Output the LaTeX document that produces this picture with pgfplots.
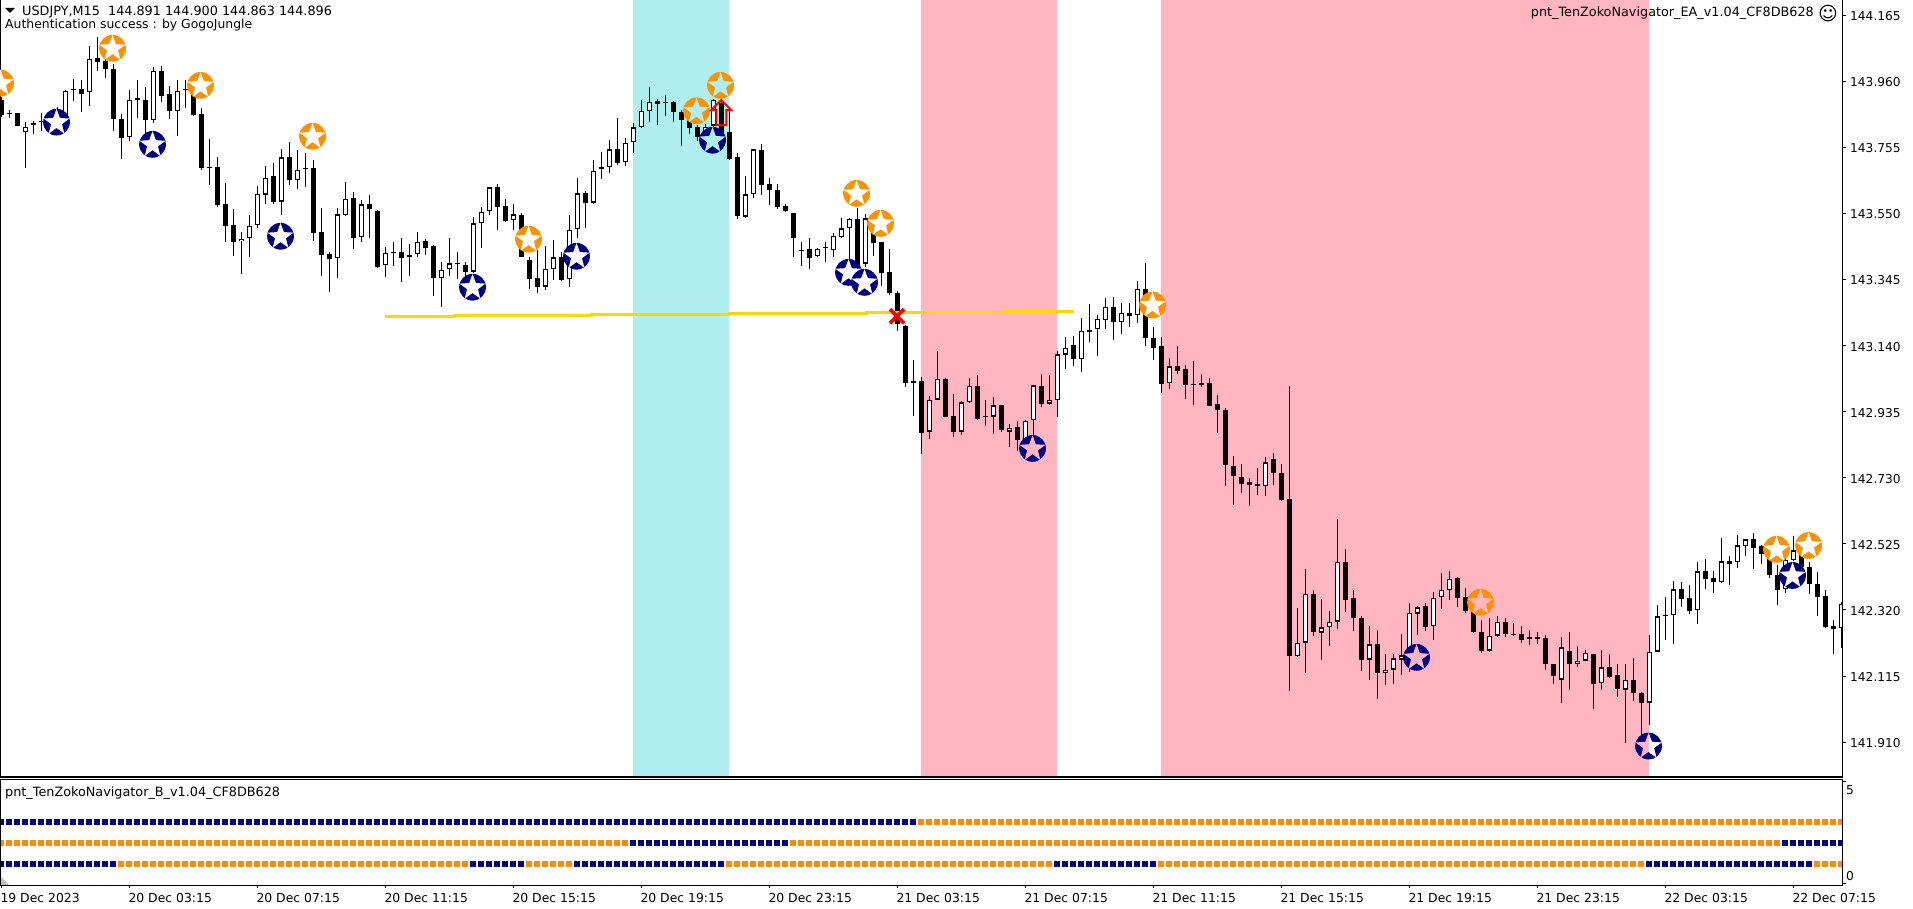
\documentclass[border=0pt]{standalone}
\usepackage{pgfplots}
\usepackage{pgfplotstable}
\usepackage{fontspec}
\pgfplotsset{compat=1.18}
\setmainfont{DejaVu Sans}
\newfontfamily\symfont{DejaVu Sans}
\definecolor{mtnavy}{HTML}{000080}
\definecolor{mtorange}{HTML}{FF8C00}
\definecolor{bandc}{HTML}{AFEEEE}
\definecolor{bandp}{HTML}{FFB6C1}
\definecolor{gold}{HTML}{FFD700}
\definecolor{ring}{HTML}{FF9100}

\newcommand{\starpath}{%
  \pgfpathmoveto{\pgfqpoint{0pt}{13.2pt}}%
  \pgfpathlineto{\pgfqpoint{3.3pt}{4.2pt}}%
  \pgfpathlineto{\pgfqpoint{12.9pt}{3.6pt}}%
  \pgfpathlineto{\pgfqpoint{5.4pt}{-2pt}}%
  \pgfpathlineto{\pgfqpoint{7.8pt}{-11.4pt}}%
  \pgfpathlineto{\pgfqpoint{0pt}{-5.8pt}}%
  \pgfpathlineto{\pgfqpoint{-7.8pt}{-11.4pt}}%
  \pgfpathlineto{\pgfqpoint{-5.4pt}{-2pt}}%
  \pgfpathlineto{\pgfqpoint{-12.9pt}{3.6pt}}%
  \pgfpathlineto{\pgfqpoint{-3.3pt}{4.2pt}}%
  \pgfpathclose}
\newcommand{\defbadge}[3]{%
  \pgfdeclareplotmark{#1}{%
    \pgfsetfillcolor{#2}%
    \pgfpathcircle{\pgfpointorigin}{13.4pt}\pgfusepathqfill
    \pgfsetfillcolor{#3}%
    \starpath\pgfusepathqfill}}
\defbadge{ow}{ring}{white}
\defbadge{oc}{ring}{bandc}
\defbadge{op}{ring}{bandp}
\defbadge{nw}{mtnavy}{white}
\defbadge{nc}{mtnavy}{bandc}
\defbadge{np}{mtnavy}{bandp}
\pgfdeclareplotmark{nh}{%
  \pgfsetfillcolor{mtnavy}%
  \pgfpathcircle{\pgfpointorigin}{13.4pt}\pgfusepathqfill
  \pgfsetfillcolor{bandp}%
  \starpath\pgfusepathqfill
  \pgfsetfillcolor{white}%
  \pgfpathrectangle{\pgfqpoint{0.3pt}{-14pt}}{\pgfqpoint{14pt}{28pt}}\pgfusepathqclip
  \starpath\pgfusepathqfill}
\pgfdeclareplotmark{redarrow}{%
  \pgfsetlinewidth{2pt}%
  \pgfsetstrokecolor{red}%
  \pgfpathmoveto{\pgfqpoint{-5pt}{0pt}}%
  \pgfpathlineto{\pgfqpoint{-5pt}{15pt}}%
  \pgfpathlineto{\pgfqpoint{-10pt}{15pt}}%
  \pgfpathlineto{\pgfqpoint{0pt}{25pt}}%
  \pgfpathlineto{\pgfqpoint{10pt}{15pt}}%
  \pgfpathlineto{\pgfqpoint{5pt}{15pt}}%
  \pgfpathlineto{\pgfqpoint{5pt}{0pt}}%
  \pgfpathclose\pgfusepathqstroke}

% bar  high  low  bodytop  bodybottom
\pgfplotstableread{
x h l t b
0 143.912 143.850 143.902 143.855
1 143.871 143.845 143.860 143.858
2 143.862 143.821 143.860 143.822
5 143.860 143.804 143.837 143.835
7 143.881 143.850 143.857 143.853
10 143.964 143.864 143.937 143.919
12 144.096 143.993 144.031 144.018
13 144.036 143.971 144.023 143.997
14 144.012 143.807 143.997 143.842
15 143.857 143.720 143.842 143.783
17 143.964 143.845 143.907 143.903
18 143.941 143.798 143.901 143.839
20 144.007 143.894 143.991 143.915
21 143.945 143.844 143.919 143.866
23 143.964 143.876 143.935 143.932
24 143.948 143.853 143.938 143.855
25 143.876 143.683 143.857 143.692
26 143.780 143.638 143.694 143.692
27 143.724 143.571 143.693 143.577
28 143.643 143.462 143.578 143.512
29 143.563 143.419 143.513 143.462
34 143.705 143.579 143.665 143.584
36 143.770 143.638 143.724 143.652
39 143.716 143.465 143.690 143.490
40 143.566 143.356 143.491 143.422
41 143.431 143.307 143.423 143.408
44 143.616 143.440 143.597 143.475
46 143.607 143.475 143.578 143.563
47 143.561 143.382 143.557 143.385
49 143.462 143.387 143.429 143.427
50 143.473 143.338 143.431 143.413
53 143.470 143.421 143.463 143.444
54 143.452 143.295 143.448 143.351
57 143.431 143.348 143.396 143.393
58 143.399 143.321 143.390 143.369
62 143.641 143.499 143.631 143.571
63 143.594 143.523 143.572 143.526
65 143.550 143.414 143.545 143.416
66 143.416 143.315 143.405 143.348
67 143.436 143.304 143.349 143.323
70 143.431 143.341 143.414 143.343
73 143.620 143.505 143.612 143.583
77 143.845 143.700 143.749 143.707
82 143.904 143.824 143.899 143.890
83 143.917 143.852 143.895 143.891
84 143.897 143.834 143.895 143.864
85 143.871 143.760 143.864 143.841
86 143.845 143.796 143.840 143.816
87 143.824 143.775 143.818 143.787
90 143.904 143.793 143.891 143.798
91 143.881 143.717 143.801 143.720
92 143.738 143.534 143.724 143.543
95 143.765 143.607 143.746 143.639
96 143.660 143.576 143.640 143.624
97 143.641 143.564 143.622 143.569
98 143.579 143.555 143.572 143.557
99 143.550 143.416 143.550 143.475
100 143.460 143.388 143.436 143.434
101 143.474 143.378 143.439 143.413
103 143.461 143.399 143.446 143.444
107 143.566 143.380 143.532 143.385
109 143.545 143.419 143.532 143.459
110 143.462 143.326 143.461 143.366
111 143.440 143.297 143.367 143.304
112 143.309 143.186 143.302 143.207
113 143.204 143.013 143.201 143.025
114 143.096 142.922 143.030 143.025
115 143.042 142.804 143.030 142.870
118 143.038 142.919 143.036 142.920
119 142.990 142.858 142.921 142.873
122 143.049 142.910 143.014 142.913
123 142.972 142.892 142.922 142.917
125 142.956 142.873 142.955 142.877
127 142.907 142.813 142.887 142.846
130 143.051 142.948 143.015 142.960
134 143.170 143.077 143.141 143.097
136 143.268 143.150 143.189 143.183
139 143.290 143.156 143.259 143.212
141 143.272 143.199 143.241 143.232
143 143.396 143.139 143.315 143.162
144 143.197 143.094 143.163 143.134
145 143.166 142.994 143.138 143.022
147 143.139 143.053 143.076 143.062
148 143.080 142.973 143.067 143.019
149 143.093 142.957 143.021 143.018
150 143.051 143.013 143.023 143.018
151 143.039 142.952 143.023 142.954
152 142.987 142.870 142.959 142.939
153 142.946 142.706 142.940 142.771
154 142.798 142.646 142.766 142.734
155 142.773 142.684 142.732 142.712
156 142.728 142.644 142.716 142.709
157 142.760 142.678 142.710 142.706
159 142.806 142.708 142.788 142.746
160 142.773 142.659 142.744 142.661
161 143.014 142.069 142.663 142.178
164 142.382 142.240 142.368 142.252
168 142.509 142.314 142.470 142.352
169 142.382 142.255 142.356 142.296
170 142.301 142.131 142.294 142.165
172 142.258 142.044 142.213 142.125
178 142.343 142.255 142.331 142.268
182 142.423 142.330 142.418 142.358
183 142.387 142.311 142.359 142.317
184 142.322 142.249 142.320 142.251
185 142.288 142.187 142.253 142.193
188 142.294 142.237 142.283 142.246
189 142.281 142.239 142.247 142.244
190 142.270 142.218 142.247 142.228
192 142.252 142.214 142.235 142.231
193 142.241 142.135 142.232 142.153
194 142.154 142.090 142.151 142.116
196 142.253 142.071 142.194 142.153
199 142.185 142.013 142.185 142.091
201 142.185 142.110 142.142 142.113
202 142.154 142.051 142.117 142.075
204 142.171 142.037 142.104 142.063
205 142.066 141.906 142.064 142.032
208 142.360 142.227 142.304 142.300
210 142.406 142.329 142.384 142.355
211 142.399 142.308 142.356 142.318
213 142.477 142.385 142.440 142.417
214 142.440 142.374 142.418 142.406
216 142.487 142.397 142.472 142.463
219 142.558 142.447 142.539 142.513
220 142.521 142.464 142.518 142.494
221 142.501 142.420 142.496 142.430
222 142.459 142.335 142.430 142.383
225 142.542 142.449 142.506 142.452
226 142.470 142.371 142.452 142.401
227 142.437 142.301 142.402 142.361
228 142.382 142.265 142.362 142.268
229 142.289 142.183 142.270 142.262
}\bear
\pgfplotstableread{
x h l t b
3 143.833 143.690 143.819 143.801
4 143.837 143.795 143.831 143.823
6 143.860 143.840 143.850 143.842
8 143.933 143.853 143.931 143.855
9 143.966 143.900 143.937 143.932
11 144.069 143.884 144.030 143.926
16 143.933 143.773 143.903 143.786
19 144.003 143.831 143.991 143.839
22 143.964 143.791 143.931 143.867
30 143.493 143.362 143.472 143.463
31 143.545 143.416 143.512 143.473
32 143.635 143.504 143.611 143.513
33 143.697 143.579 143.661 143.608
35 143.749 143.546 143.724 143.586
37 143.745 143.626 143.686 143.653
38 143.736 143.633 143.692 143.687
42 143.566 143.351 143.547 143.411
43 143.646 143.543 143.596 143.544
45 143.592 143.462 143.578 143.476
48 143.445 143.354 143.428 143.389
51 143.454 143.356 143.420 143.414
52 143.493 143.416 143.462 143.423
55 143.398 143.261 143.375 143.349
56 143.473 143.356 143.395 143.378
59 143.538 143.364 143.519 143.369
60 143.569 143.443 143.555 143.519
61 143.633 143.545 143.631 143.556
64 143.579 143.499 143.547 143.528
68 143.449 143.312 143.377 143.323
69 143.468 143.343 143.414 143.377
71 143.545 143.323 143.498 143.345
72 143.660 143.474 143.612 143.501
74 143.716 143.580 143.681 143.583
75 143.739 143.657 143.693 143.687
76 143.778 143.676 143.749 143.693
78 143.783 143.698 143.769 143.708
79 143.829 143.738 143.817 143.770
80 143.902 143.814 143.867 143.817
81 143.941 143.834 143.895 143.867
88 143.827 143.778 143.819 143.788
89 143.904 143.778 143.901 143.822
93 143.666 143.537 143.609 143.540
94 143.749 143.599 143.749 143.609
102 143.442 143.416 143.441 143.417
104 143.488 143.416 143.481 143.435
105 143.536 143.475 143.504 143.476
106 143.535 143.395 143.532 143.504
108 143.548 143.385 143.535 143.394
116 142.984 142.851 142.971 142.873
117 143.124 142.970 143.036 142.972
120 142.968 142.863 142.964 142.873
121 143.039 142.963 143.014 142.965
124 142.980 142.866 142.955 142.920
126 142.896 142.824 142.884 142.873
128 142.910 142.842 142.906 142.848
129 143.017 142.858 143.017 142.908
131 143.049 142.957 142.971 142.960
132 143.122 142.917 143.113 142.971
133 143.166 143.068 143.132 143.112
135 143.225 143.059 143.185 143.097
137 143.235 143.109 143.222 143.191
138 143.287 143.192 143.259 143.219
140 143.272 143.176 143.241 143.213
142 143.341 143.211 143.315 143.234
146 143.102 143.004 143.076 143.023
158 142.794 142.672 142.778 142.704
162 142.325 142.175 142.218 142.176
163 142.446 142.125 142.370 142.219
165 142.353 142.166 142.266 142.250
166 142.316 142.209 142.283 142.266
167 142.601 142.262 142.470 142.284
171 142.270 142.104 142.213 142.166
173 142.185 142.088 142.135 142.123
174 142.185 142.091 142.170 142.135
175 142.245 142.119 142.179 142.166
176 142.343 142.128 142.312 142.179
177 142.333 142.242 142.328 142.309
179 142.375 142.226 142.358 142.269
180 142.435 142.324 142.383 142.359
181 142.440 142.351 142.417 142.381
186 142.294 142.190 142.240 142.194
187 142.301 142.237 142.283 142.240
191 142.257 142.211 142.235 142.229
195 142.237 142.032 142.204 142.104
197 142.208 142.144 142.163 142.151
198 142.195 142.161 142.188 142.163
200 142.195 142.071 142.142 142.092
203 142.154 141.906 142.104 142.073
206 142.241 141.963 142.191 142.033
207 142.335 142.189 142.300 142.191
209 142.410 142.214 142.384 142.303
212 142.468 142.276 142.440 142.319
215 142.543 142.405 142.471 142.406
217 142.551 142.451 142.520 142.468
218 142.540 142.487 142.539 142.519
223 142.477 142.373 142.475 142.384
224 142.549 142.473 142.505 142.475
230 142.346 142.203 142.340 142.263
}\bull

\newcommand{\txtfont}{\fontsize{12.2}{14}\selectfont}
\newcommand{\datefont}{\fontsize{12.4}{14}\selectfont}
\newcommand{\capfont}{\fontsize{12.8}{14}\selectfont}
\pgfplotsset{
  wickstyle/.style={draw=none,mark=none,forget plot,
    error bars/.cd,y dir=plus,y explicit,error mark=none,
    error bar style={draw=black,line width=1.2pt}},
  bodystyle/.style={draw=none,mark=none,forget plot,
    error bars/.cd,y dir=plus,y explicit,error mark=none,
    error bar style={draw=black,line width=5pt}},
  innerstyle/.style={draw=none,mark=none,forget plot,
    error bars/.cd,y dir=plus,y explicit,error mark=none,
    error bar style={draw=white,line width=2.8pt}},
}
\begin{document}
\begin{tikzpicture}[x=1pt,y=1pt]
\useasboundingbox (0,0) rectangle (1913,909);
\fill[white] (0,0) rectangle (1913,909);
\begin{axis}[
  at={(0.5pt,132pt)},anchor=south west,
  scale only axis,width=1842pt,height=779pt,
  xmin=-0.104,xmax=230.15,ymin=141.802,ymax=144.218,
  axis on top,
  xtick=\empty,
  ytick={141.910,142.115,142.320,142.525,142.730,142.935,143.140,143.345,143.550,143.755,143.960,144.165},
  yticklabels={141.910,142.115,142.320,142.525,142.730,142.935,143.140,143.345,143.550,143.755,143.960,144.165},
  ytick pos=right,yticklabel pos=right,tick align=outside,
  major tick length=3pt,
  every tick/.style={black,line width=1pt},
  yticklabel style={font=\txtfont,anchor=west,inner xsep=0pt,xshift=4.5pt,yshift=-1pt},
  axis line style={line width=1.2pt,black},
]
\addplot[fill=bandc,draw=none,forget plot] coordinates {(78.96,141.7)(90.96,141.7)(90.96,144.3)(78.96,144.3)} -- cycle;
\addplot[fill=bandp,draw=none,forget plot] coordinates {(114.96,141.7)(131.96,141.7)(131.96,144.3)(114.96,144.3)} -- cycle;
\addplot[fill=bandp,draw=none,forget plot] coordinates {(144.96,141.7)(205.96,141.7)(205.96,144.3)(144.96,144.3)} -- cycle;
% candles
\addplot[wickstyle] table[x=x,y=l,y error plus expr=\thisrow{h}-\thisrow{l}] {\bear};
\addplot[wickstyle] table[x=x,y=l,y error plus expr=\thisrow{h}-\thisrow{l}] {\bull};
\addplot[bodystyle] table[x=x,y=b,y error plus expr=\thisrow{t}-\thisrow{b}] {\bear};
\addplot[bodystyle] table[x=x,y=b,y error plus expr=\thisrow{t}-\thisrow{b}] {\bull};
\addplot[innerstyle] table[x=x,y expr=\thisrow{b}+0.004,y error plus expr={max(\thisrow{t}-\thisrow{b}-0.008,0)}] {\bull};
% level line
\addplot[const plot,gold,line width=3pt,forget plot] coordinates {(48,143.230)(56.6,143.233)(73.8,143.237)(91,143.240)(108.2,143.243)(125.5,143.247)(134.1,143.247)};
% orange badges
\addplot[only marks,mark=ow,forget plot] coordinates {(-0.1,143.954)(13.9,144.062)(24.9,143.947)(38.9,143.789)(65.9,143.470)(106.9,143.612)(109.9,143.519)(143.9,143.266)(221.9,142.508)(225.9,142.520)};
\addplot[only marks,mark=oc,forget plot] coordinates {(86.9,143.868)(89.9,143.947)};
\addplot[only marks,mark=op,forget plot] coordinates {(184.9,142.344)};
% navy badges
\addplot[only marks,mark=nw,forget plot] coordinates {(6.9,143.833)(18.9,143.764)(34.9,143.479)(58.9,143.321)(71.9,143.417)(105.9,143.367)(107.9,143.336)(223.9,142.427)};
\addplot[only marks,mark=nc,forget plot] coordinates {(88.9,143.777)};
\addplot[only marks,mark=np,forget plot] coordinates {(128.9,142.821)(176.9,142.173)};
\addplot[only marks,mark=nh,forget plot] coordinates {(205.9,141.898)};
% signals
\addplot[only marks,mark=redarrow,forget plot] coordinates {(90,143.824)};
\addplot[only marks,mark=x,mark size=10pt,mark options={red,line width=3.6pt},forget plot] coordinates {(111.96,143.231)};
\end{axis}
\begin{axis}[
  at={(0.5pt,23.7pt)},anchor=south west,
  scale only axis,width=1842pt,height=106pt,
  xmin=-0.104,xmax=230.15,ymin=0,ymax=5,
  xtick={0,16,...,224},
  xticklabels={19 Dec 2023,20 Dec 03:15,20 Dec 07:15,20 Dec 11:15,20 Dec 15:15,20 Dec 19:15,20 Dec 23:15,21 Dec 03:15,21 Dec 07:15,21 Dec 11:15,21 Dec 15:15,21 Dec 19:15,21 Dec 23:15,22 Dec 03:15,22 Dec 07:15},
  xticklabel style={font=\datefont,anchor=north west,inner sep=0pt,xshift=-1pt,yshift=-5pt},
  ytick={0.07,4.9},yticklabels={,},
  ytick pos=right,tick align=outside,xtick pos=bottom,
  major tick length=3pt,
  every tick/.style={black,line width=1pt},
  axis line style={line width=1.2pt,black},
  axis on top,
]
\addplot[mtnavy,line width=6pt,dash pattern=on 6pt off 2pt,forget plot] coordinates {(-0.375,3)(114.375,3)};
\addplot[mtorange,line width=6pt,dash pattern=on 6pt off 2pt,forget plot] coordinates {(114.625,3)(230.375,3)};
\addplot[mtorange,line width=6pt,dash pattern=on 6pt off 2pt,forget plot] coordinates {(-0.375,2)(78.375,2)};
\addplot[mtnavy,line width=6pt,dash pattern=on 6pt off 2pt,forget plot] coordinates {(78.625,2)(98.375,2)};
\addplot[mtorange,line width=6pt,dash pattern=on 6pt off 2pt,forget plot] coordinates {(98.625,2)(222.375,2)};
\addplot[mtnavy,line width=6pt,dash pattern=on 6pt off 2pt,forget plot] coordinates {(222.625,2)(230.375,2)};
\addplot[mtnavy,line width=6pt,dash pattern=on 6pt off 2pt,forget plot] coordinates {(-0.375,1)(14.375,1)};
\addplot[mtorange,line width=6pt,dash pattern=on 6pt off 2pt,forget plot] coordinates {(14.625,1)(58.375,1)};
\addplot[mtnavy,line width=6pt,dash pattern=on 6pt off 2pt,forget plot] coordinates {(58.625,1)(65.375,1)};
\addplot[mtorange,line width=6pt,dash pattern=on 6pt off 2pt,forget plot] coordinates {(65.625,1)(71.375,1)};
\addplot[mtnavy,line width=6pt,dash pattern=on 6pt off 2pt,forget plot] coordinates {(71.625,1)(90.375,1)};
\addplot[mtorange,line width=6pt,dash pattern=on 6pt off 2pt,forget plot] coordinates {(90.625,1)(131.375,1)};
\addplot[mtnavy,line width=6pt,dash pattern=on 6pt off 2pt,forget plot] coordinates {(131.625,1)(144.375,1)};
\addplot[mtorange,line width=6pt,dash pattern=on 6pt off 2pt,forget plot] coordinates {(144.625,1)(205.375,1)};
\addplot[mtnavy,line width=6pt,dash pattern=on 6pt off 2pt,forget plot] coordinates {(205.625,1)(226.375,1)};
\addplot[mtorange,line width=6pt,dash pattern=on 6pt off 2pt,forget plot] coordinates {(226.625,1)(230.375,1)};
\end{axis}
% window decorations and captions (positions in pixels from the top left)
\fill[black] (5,901) -- (15,901) -- (10,896) -- cycle;
\fill[black!25] (1,32) -- (1,24) -- (9,24) -- cycle;
\node[font=\capfont,anchor=west,inner sep=0pt] at (22,897) {USDJPY,M15\ \ 144.891 144.900 144.863 144.896};
\node[font=\datefont,anchor=west,inner sep=0pt] at (5,884) {Authentication success : by GogoJungle};
\node[font=\capfont,anchor=east,inner sep=0pt] at (1814,896) {pnt\_TenZokoNavigator\_EA\_v1.04\_CF8DB628};
\node[font=\capfont,anchor=west,inner sep=0pt] at (5,116) {pnt\_TenZokoNavigator\_B\_v1.04\_CF8DB628};
\node[font=\symfont\fontsize{19}{19}\selectfont,inner sep=0pt] at (1828,895) {☺};
\node[font=\txtfont,anchor=west,inner sep=0pt] at (1846,119) {5};
\node[font=\txtfont,anchor=west,inner sep=0pt] at (1846,33) {0};
\end{tikzpicture}
\end{document}
